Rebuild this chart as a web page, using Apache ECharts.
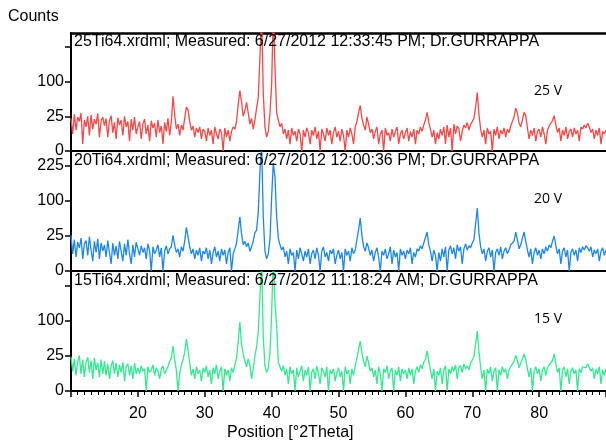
<!DOCTYPE html>
<html>
<head>
<meta charset="utf-8">
<script src="https://cdn.jsdelivr.net/npm/echarts@6/dist/echarts.min.js"></script>
<style>
  html, body { margin: 0; padding: 0; background: #fff; }
  #viz { width: 606px; height: 443px; }
</style>
</head>
<body>
<div id="viz"></div>
<script>
/* scan grid: 10 to 90 deg 2Theta, 0.25 deg step */
var startDeg = 10;
var stepDeg = 0.25;

/* counts, one row = 5 deg */
var counts25V = [
  22, 6, 28, 9, 24, 18, 30, 1, 20, 12, 25, 5, 27, 10, 21, 15, 29, 4, 19, 24,
  13, 22, 4, 19, 26, 7, 17, 3, 23, 14, 20, 5, 25, 12, 18, 2, 21, 9, 24, 6,
  12, 18, 3, 15, 21, 6, 14, 2, 19, 11, 16, 4, 20, 7, 13, 1, 17, 8, 22, 5,
  18, 62, 28, 10, 15, 5, 14, 9, 22, 40, 35, 18, 9, 13, 4, 11, 7, 12, 3, 10,
  8, 2, 11, 5, 9, 1, 12, 6, 3, 10, 7, 0, 11, 4, 9, 2, 8, 12, 10, 18,
  45, 76, 50, 25, 34, 49, 30, 15, 22, 10, 20, 38, 60, 180, 400, 70, 12, 4, 8, 30,
  90, 400, 150, 30, 20, 12, 16, 6, 10, 3, 9, 1, 11, 5, 8, 2, 10, 6, 0, 9,
  4, 11, 7, 1, 9, 5, 12, 3, 8, 0, 10, 6, 2, 11, 5, 9, 1, 7, 12, 4,
  8, 2, 10, 5, 0, 9, 4, 11, 6, 1, 12, 18, 30, 43, 22, 14, 9, 24, 15, 7,
  10, 3, 8, 12, 1, 6, 9, 0, 11, 5, 7, 2, 10, 4, 8, 12, 1, 6, 9, 3,
  7, 11, 2, 8, 4, 10, 1, 9, 6, 12, 8, 14, 20, 31, 17, 10, 4, 9, 1, 7,
  3, 10, 5, 12, 1, 14, 4, 11, 0, 15, 6, 13, 10, 2, 8, 14, 11, 17, 9, 15,
  18, 22, 40, 71, 28, 10, 4, 9, 1, 11, 6, 8, 0, 10, 5, 12, 3, 9, 6, 11,
  4, 10, 7, 13, 18, 24, 38, 30, 16, 12, 20, 31, 26, 11, 3, 9, 5, 11, 2, 8,
  10, 4, 12, 6, 1, 9, 13, 16, 19, 26, 14, 7, 11, 2, 9, 5, 12, 3, 8, 10,
  4, 11, 6, 9, 2, 12, 10, 14, 11, 16, 12, 7, 10, 3, 9, 5, 11, 1, 8, 6,
  9
];
var counts20V = [
  26, 6, 20, 4, 17, 11, 22, 3, 15, 19, 5, 24, 9, 2, 18, 7, 21, 3, 16, 8,
  14, 4, 19, 7, 1, 16, 5, 13, 3, 18, 8, 2, 15, 5, 20, 6, 1, 14, 4, 17,
  10, 5, 13, 7, 11, 3, 15, 8, 0, 12, 6, 9, 14, 4, 11, 0, 8, 13, 6, 10,
  12, 26, 14, 7, 10, 4, 12, 8, 18, 39, 24, 12, 6, 10, 3, 9, 5, 11, 2, 8,
  6, 11, 3, 9, 1, 7, 12, 4, 8, 2, 10, 5, 9, 1, 7, 11, 0, 6, 10, 16,
  34, 60, 28, 14, 18, 12, 16, 8, 12, 18, 30, 34, 70, 200, 330, 60, 8, 3, 6, 20,
  110, 238, 180, 60, 22, 14, 9, 12, 4, 8, 1, 10, 5, 7, 0, 9, 3, 11, 6, 2,
  8, 4, 10, 1, 6, 9, 3, 11, 5, 0, 8, 12, 4, 7, 2, 9, 6, 10, 1, 5,
  9, 3, 7, 0, 10, 5, 8, 2, 11, 6, 9, 20, 35, 57, 26, 12, 8, 16, 11, 5,
  9, 2, 7, 11, 4, 0, 8, 5, 10, 3, 6, 12, 1, 9, 4, 7, 0, 10, 5, 8,
  3, 9, 6, 11, 1, 7, 4, 10, 8, 13, 10, 16, 18, 31, 14, 8, 2, 9, 5, 0,
  7, 2, 10, 4, 12, 0, 9, 13, 6, 11, 3, 14, 8, 12, 1, 10, 15, 9, 13, 11,
  16, 20, 45, 81, 30, 12, 6, 10, 2, 8, 11, 4, 9, 0, 7, 10, 5, 12, 3, 8,
  11, 6, 9, 14, 12, 18, 31, 20, 10, 14, 22, 31, 18, 9, 4, 10, 1, 7, 11, 5,
  9, 3, 10, 6, 12, 8, 14, 11, 18, 25, 13, 6, 10, 1, 8, 11, 4, 9, 0, 7,
  10, 5, 9, 2, 11, 7, 12, 9, 13, 11, 8, 12, 4, 9, 6, 10, 2, 8, 11, 5,
  9
];
var counts15V = [
  24, 8, 21, 5, 18, 26, 6, 20, 4, 17, 23, 7, 19, 3, 22, 9, 16, 4, 20, 6,
  18, 5, 15, 3, 13, 19, 6, 16, 4, 14, 7, 17, 2, 12, 15, 5, 13, 3, 16, 6,
  11, 6, 13, 8, 10, 0, 12, 7, 9, 14, 5, 11, 8, 3, 10, 13, 6, 9, 12, 18,
  22, 41, 20, 9, 0, 6, 14, 20, 30, 55, 34, 16, 5, 10, 3, 12, 6, 9, 2, 11,
  7, 13, 4, 9, 1, 11, 6, 14, 3, 8, 12, 0, 10, 5, 9, 2, 11, 7, 14, 22,
  50, 97, 45, 28, 18, 12, 21, 14, 3, 10, 25, 40, 70, 180, 360, 60, 13, 7, 11, 30,
  120, 380, 160, 86, 17, 12, 8, 13, 5, 10, 1, 12, 6, 9, 0, 11, 4, 8, 13, 2,
  9, 5, 12, 0, 7, 10, 3, 13, 6, 1, 11, 8, 4, 12, 0, 9, 6, 10, 2, 7,
  11, 4, 8, 0, 12, 6, 9, 1, 10, 5, 13, 22, 35, 51, 30, 18, 12, 25, 16, 8,
  11, 4, 9, 1, 12, 6, 0, 10, 7, 13, 3, 8, 11, 0, 9, 5, 12, 2, 10, 6,
  9, 3, 11, 5, 10, 1, 8, 12, 7, 14, 10, 17, 20, 33, 18, 9, 3, 10, 0, 8,
  5, 11, 1, 9, 13, 0, 10, 6, 12, 8, 14, 3, 11, 13, 7, 15, 10, 13, 9, 16,
  15, 24, 45, 73, 32, 12, 3, 9, 0, 10, 6, 12, 2, 8, 11, 0, 9, 5, 12, 7,
  10, 3, 9, 12, 15, 18, 26, 19, 11, 16, 21, 28, 20, 10, 4, 11, 0, 8, 12, 6,
  10, 2, 9, 12, 5, 11, 14, 12, 19, 28, 15, 7, 11, 0, 9, 12, 4, 10, 1, 8,
  11, 6, 9, 0, 10, 7, 12, 14, 11, 15, 13, 8, 11, 3, 10, 6, 12, 1, 9, 5,
  10
];

var panelNames = [
  '25Ti64.xrdml; Measured: 6/27/2012 12:33:45 PM; Dr.GURRAPPA',
  '20Ti64.xrdml; Measured: 6/27/2012 12:00:36 PM; Dr.GURRAPPA',
  '15Ti64.xrdml; Measured: 6/27/2012 11:18:24 AM; Dr.GURRAPPA'
];
var voltLabels = ['25 V', '20 V', '15 V'];
var lineColors = ['#f24848', '#1e86e6', '#34e890'];
var xTicks = [20, 30, 40, 50, 60, 70, 80];
var yTickCounts = [0, 25, 100, 225];

var FONT = '"Liberation Sans", Arial, sans-serif';

/* y axis is square-root scaled: plot sqrt(counts) */
function toSeries(counts){
  var out = [];
  for (var i = 0; i < counts.length; i++){
    out.push([startDeg + i * stepDeg, Math.sqrt(counts[i])]);
  }
  return out;
}

var panelTops = [33, 152, 272];
var panelHeight = 119;
var allCounts = [counts25V, counts20V, counts15V];

var grids = [], xAxes = [], yAxes = [], series = [], titles = [];
var ySqrt = yTickCounts.map(function(c){ return Math.sqrt(c); });

for (var p = 0; p < 3; p++){
  grids.push({ left: 71, right: -3, top: panelTops[p], height: panelHeight - (p == 0 ? 1 : 0) });

  var isBottom = (p == 2);
  xAxes.push({
    type: 'value', gridIndex: p, min: 10, max: 90, interval: 10,
    axisLine: { show: true, lineStyle: { color: '#000', width: 2 } },
    axisTick: { show: isBottom, length: 6, lineStyle: { color: '#000', width: 1.5 } },
    minorTick: { show: isBottom, splitNumber: 10, length: 4, lineStyle: { color: '#000', width: 1 } },
    splitLine: { show: false },
    axisLabel: {
      show: isBottom, color: '#000', fontSize: 16, fontFamily: FONT, margin: 15,
      customValues: xTicks
    }
  });

  // the 225 label only shows on the middle panel
  var labelVals = (p == 1) ? ySqrt : ySqrt.slice(0, 3);
  yAxes.push({
    type: 'value', gridIndex: p, min: 0, max: 17,
    axisLine: { show: true, lineStyle: { color: '#000', width: 2 } },
    axisTick: { show: true, length: 6, customValues: ySqrt, lineStyle: { color: '#000', width: 1.5 } },
    splitLine: { show: false },
    axisLabel: {
      color: '#000', fontSize: 16, fontFamily: FONT, margin: 7,
      customValues: labelVals,
      formatter: function(v){ return String(Math.round(v * v)); }
    }
  });

  series.push({
    type: 'line', xAxisIndex: p, yAxisIndex: p,
    data: toSeries(allCounts[p]),
    showSymbol: false, clip: true, sampling: null,
    lineStyle: { color: lineColors[p], width: 1.3 },
    z: 2
  });

  titles.push({
    text: panelNames[p], left: 74, top: panelTops[p] + 1, padding: 0,
    textStyle: { fontSize: 16, fontWeight: 'normal', fontFamily: FONT, color: '#000' }
  });
  titles.push({
    text: voltLabels[p], left: 534, top: [84, 192, 312][p], padding: 0,
    textStyle: { fontSize: 14, fontWeight: 'normal', fontFamily: '"Open Sans", sans-serif', color: '#000' }
  });
}

/* top frame line of the first panel */
xAxes.push({
  type: 'value', gridIndex: 0, position: 'top', min: 10, max: 90,
  axisLine: { show: true, lineStyle: { color: '#000', width: 2.5 } },
  axisTick: { show: false }, axisLabel: { show: false }, splitLine: { show: false }
});

titles.push({
  text: 'Counts', left: 8, top: 9, padding: 0,
  textStyle: { fontSize: 16, fontWeight: 'normal', fontFamily: FONT, color: '#000' }
});
titles.push({
  text: 'Position [°2Theta]', left: 227, top: 425, padding: 0,
  textStyle: { fontSize: 16, fontWeight: 'normal', fontFamily: FONT, color: '#000' }
});

var myChart = echarts.init(document.getElementById('viz'), null, { renderer: 'canvas' });
var option = {
  animation: false,
  backgroundColor: '#fff',
  title: titles,
  grid: grids,
  xAxis: xAxes,
  yAxis: yAxes,
  series: series
};
myChart.setOption(option);
</script>
</body>
</html>
